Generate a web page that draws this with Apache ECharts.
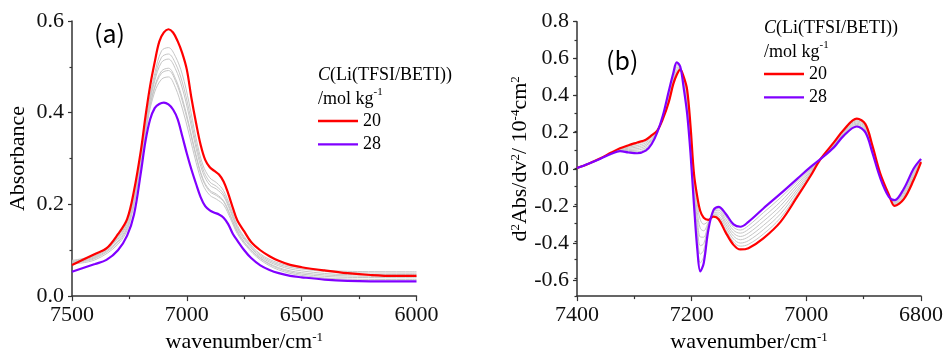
<!DOCTYPE html>
<html><head><meta charset="utf-8">
<script src="https://cdn.jsdelivr.net/npm/echarts@6/dist/echarts.min.js"></script>
<style>html,body{margin:0;padding:0;background:#fff}#c{width:946px;height:358px}</style>
</head><body><div id="c"></div>
<script>
// ---------- Panel (a): absorbance ----------
const waveA = [7500,7400,7350,7300,7260,7230,7200,7180,7160,7140,7120,7100,7080,7060,7040,7020,7000,6980,6960,6940,6920,6900,6880,6860,6840,6820,6800,6780,6750,6720,6680,6640,6600,6550,6500,6400,6300,6200,6100,6000];
const absRed20 = [0.068,0.092,0.104,0.135,0.168,0.230,0.318,0.392,0.458,0.510,0.555,0.575,0.582,0.575,0.556,0.530,0.494,0.432,0.378,0.330,0.297,0.281,0.273,0.265,0.250,0.224,0.193,0.165,0.141,0.118,0.100,0.087,0.077,0.068,0.063,0.056,0.050,0.046,0.044,0.044];
const absPurple28 = [0.053,0.070,0.079,0.100,0.132,0.178,0.270,0.338,0.385,0.410,0.419,0.422,0.418,0.407,0.386,0.349,0.311,0.276,0.245,0.216,0.196,0.187,0.182,0.178,0.171,0.157,0.136,0.121,0.100,0.083,0.067,0.057,0.050,0.044,0.041,0.036,0.033,0.032,0.032,0.032];
const waveAGray = [7500,7400,7300,7250,7200,7170,7140,7110,7080,7050,7020,6990,6960,6930,6900,6870,6840,6810,6780,6740,6680,6600,6500,6300,6000];
const absGray1 = [0.078,0.090,0.130,0.182,0.306,0.409,0.485,0.535,0.542,0.523,0.484,0.421,0.345,0.286,0.258,0.247,0.230,0.194,0.154,0.123,0.092,0.072,0.062,0.054,0.053];
const absGray2 = [0.076,0.088,0.127,0.177,0.302,0.404,0.476,0.521,0.528,0.508,0.467,0.405,0.333,0.277,0.249,0.239,0.223,0.188,0.150,0.120,0.089,0.069,0.059,0.051,0.050];
const absGray3 = [0.075,0.086,0.124,0.172,0.298,0.399,0.469,0.510,0.517,0.496,0.454,0.393,0.323,0.269,0.242,0.233,0.218,0.184,0.147,0.117,0.086,0.066,0.055,0.047,0.047];
const absGray4 = [0.073,0.084,0.120,0.166,0.293,0.392,0.457,0.491,0.497,0.475,0.432,0.373,0.308,0.256,0.231,0.222,0.208,0.176,0.142,0.112,0.083,0.062,0.051,0.044,0.043];
const absGray5 = [0.072,0.082,0.117,0.162,0.291,0.390,0.454,0.486,0.492,0.470,0.426,0.368,0.304,0.253,0.228,0.219,0.206,0.174,0.140,0.111,0.082,0.060,0.048,0.041,0.040];
const absGray6 = [0.070,0.079,0.113,0.157,0.287,0.384,0.445,0.473,0.478,0.455,0.410,0.353,0.292,0.243,0.220,0.211,0.199,0.169,0.136,0.108,0.079,0.057,0.045,0.037,0.036];

// ---------- Panel (b): second derivative ----------
const waveB = [7400,7380,7360,7340,7325,7310,7295,7280,7270,7260,7250,7240,7232,7226,7220,7214,7208,7202,7196,7190,7185,7179,7171,7162,7153,7141,7127,7115,7101,7075,7045,7016,6993,6975,6952,6935,6912,6897,6885,6871,6856,6846,6830,6813,6800];
const d2Red20 = [0,0.024,0.052,0.085,0.108,0.125,0.140,0.155,0.178,0.205,0.270,0.360,0.460,0.510,0.538,0.500,0.430,0.230,-0.030,-0.160,-0.235,-0.272,-0.283,-0.266,-0.280,-0.350,-0.420,-0.445,-0.438,-0.384,-0.294,-0.158,-0.045,0.050,0.140,0.208,0.270,0.240,0.125,-0.030,-0.145,-0.207,-0.170,-0.067,0.032];
const d2Purple28 = [0,0.024,0.050,0.078,0.092,0.085,0.081,0.095,0.130,0.195,0.290,0.420,0.520,0.578,0.555,0.440,0.300,0.080,-0.200,-0.450,-0.565,-0.520,-0.340,-0.230,-0.212,-0.248,-0.308,-0.321,-0.294,-0.221,-0.140,-0.059,0.005,0.050,0.113,0.176,0.227,0.195,0.086,-0.055,-0.158,-0.175,-0.113,-0.004,0.050];
const d2Gray1 = [0,0.024,0.051,0.084,0.106,0.119,0.132,0.146,0.171,0.204,0.273,0.369,0.469,0.520,0.540,0.491,0.411,0.209,-0.054,-0.201,-0.282,-0.307,-0.291,-0.261,-0.270,-0.335,-0.404,-0.427,-0.417,-0.361,-0.272,-0.144,-0.038,0.050,0.136,0.203,0.264,0.234,0.119,-0.034,-0.147,-0.202,-0.162,-0.058,0.035];
const d2Gray2 = [0,0.024,0.051,0.083,0.103,0.114,0.123,0.138,0.164,0.202,0.276,0.377,0.477,0.529,0.543,0.483,0.393,0.187,-0.079,-0.243,-0.329,-0.343,-0.299,-0.256,-0.261,-0.321,-0.388,-0.410,-0.397,-0.337,-0.250,-0.130,-0.031,0.050,0.132,0.199,0.258,0.227,0.114,-0.037,-0.149,-0.198,-0.154,-0.049,0.037];
const d2Gray3 = [0,0.024,0.051,0.082,0.101,0.108,0.115,0.129,0.157,0.201,0.279,0.386,0.486,0.539,0.545,0.474,0.374,0.166,-0.103,-0.284,-0.377,-0.378,-0.307,-0.251,-0.251,-0.306,-0.372,-0.392,-0.376,-0.314,-0.228,-0.116,-0.024,0.050,0.128,0.194,0.252,0.221,0.108,-0.041,-0.151,-0.193,-0.146,-0.040,0.040];
const d2Gray4 = [0,0.024,0.051,0.081,0.099,0.102,0.106,0.121,0.151,0.199,0.281,0.394,0.494,0.549,0.548,0.466,0.356,0.144,-0.127,-0.326,-0.424,-0.414,-0.316,-0.245,-0.241,-0.292,-0.356,-0.374,-0.356,-0.291,-0.206,-0.101,-0.016,0.050,0.125,0.190,0.245,0.214,0.103,-0.044,-0.152,-0.189,-0.137,-0.031,0.042];
const d2Gray5 = [0,0.024,0.051,0.080,0.097,0.096,0.098,0.112,0.144,0.198,0.284,0.403,0.503,0.559,0.550,0.457,0.337,0.123,-0.151,-0.367,-0.471,-0.449,-0.324,-0.240,-0.231,-0.277,-0.340,-0.356,-0.335,-0.268,-0.184,-0.087,-0.009,0.050,0.121,0.185,0.239,0.208,0.097,-0.048,-0.154,-0.184,-0.129,-0.022,0.045];
const d2Gray6 = [0,0.024,0.050,0.079,0.094,0.091,0.089,0.104,0.137,0.196,0.287,0.411,0.511,0.568,0.553,0.449,0.319,0.101,-0.176,-0.409,-0.518,-0.485,-0.332,-0.235,-0.222,-0.263,-0.324,-0.339,-0.315,-0.244,-0.162,-0.073,-0.002,0.050,0.117,0.181,0.233,0.201,0.092,-0.051,-0.156,-0.180,-0.121,-0.013,0.047];

const legendNames = ['20', '28'];

const SERIF = 'Liberation Serif';
const SANS = 'Noto Sans CJK SC';
const RED = '#ff0000', PURPLE = '#8000ff', GRAY = '#c6c6c6';
const pair = (xs, ys) => xs.map((x, i) => [x, ys[i]]);

const supRich = {
  sup: { fontFamily: SERIF, fontSize: 13, verticalAlign: 'top', lineHeight: 14, color: '#000' },
  n: { fontFamily: SERIF, fontSize: 22, color: '#000' },
  t: { fontFamily: SERIF, fontSize: 22, color: '#111' },
  i: { fontFamily: SERIF, fontSize: 18, fontStyle: 'italic', color: '#000' },
  s18: { fontFamily: SERIF, fontSize: 18, color: '#000' },
  sup18: { fontFamily: SERIF, fontSize: 11, verticalAlign: 'top', color: '#000' }
};

const axisLineStyle = { show: true, onZero: false, lineStyle: { color: '#333', width: 1.5 } };
function tickLabel(fmt) {
  return { margin: 8, fontFamily: SERIF, fontSize: 22, color: '#111', rich: supRich,
           formatter: v => '{t|' + fmt(v) + '}' };
}

function xAxisCommon(grid, min, max, interval) {
  return {
    gridIndex: grid, type: 'value', min, max, interval, inverse: true,
    axisLine: axisLineStyle,
    axisTick: { show: true, inside: false, length: 5, lineStyle: { color: '#333', width: 1.2 } },
    minorTick: { show: true, splitNumber: 2, length: 3, lineStyle: { color: '#333', width: 1.2 } },
    splitLine: { show: false }, minorSplitLine: { show: false },
    axisLabel: tickLabel(v => String(Math.round(v))),
    name: '{n|wavenumber/cm}{sup|-1}', nameLocation: 'middle', nameGap: 30,
    nameTextStyle: { fontFamily: SERIF, fontSize: 22, color: '#000', rich: supRich }
  };
}

function line(name, xs, ys, xi, yi, color, width, z) {
  return {
    type: 'line', name, xAxisIndex: xi, yAxisIndex: yi,
    data: pair(xs, ys), showSymbol: false, symbol: 'none', smooth: 0.35,
    lineStyle: { color, width }, itemStyle: { color }, z, silent: true
  };
}

const grayA = [absGray1, absGray2, absGray3, absGray4, absGray5, absGray6];
const grayB = [d2Gray1, d2Gray2, d2Gray3, d2Gray4, d2Gray5, d2Gray6];

const series = [];
grayA.forEach((g, k) => series.push(line('gA' + k, waveAGray, g, 0, 0, GRAY, 1, 2)));
series.push(line(legendNames[0], waveA, absRed20, 0, 0, RED, 2.2, 3));
series.push(line(legendNames[1], waveA, absPurple28, 0, 0, PURPLE, 2.2, 3));
grayB.forEach((g, k) => series.push(line('gB' + k, waveB, g, 1, 1, GRAY, 1, 2)));
series.push(line(legendNames[0], waveB, d2Red20, 1, 1, RED, 2.2, 3));
series.push(line(legendNames[1], waveB, d2Purple28, 1, 1, PURPLE, 2.2, 3));

const legendCommon = {
  data: legendNames, orient: 'vertical', icon: 'rect', itemWidth: 40, itemHeight: 2.4, itemGap: 5.4, padding: 0,
  selectedMode: false,
  textStyle: { fontFamily: SERIF, fontSize: 18, color: '#000' }
};

const option = {
  animation: false,
  backgroundColor: '#fff',
  textStyle: { fontFamily: SERIF },
  title: [
    { text: '(a)', left: 94, top: 21, padding: 0, textStyle: { fontFamily: SANS, fontSize: 25, fontWeight: 'normal', color: '#000' } },
    { text: '(b)', left: 606, top: 48, padding: 0, textStyle: { fontFamily: SANS, fontSize: 25, fontWeight: 'normal', color: '#000' } },
    { text: '{i|C}{s18|(Li(TFSI/BETI))}\n{s18|/mol kg}{sup18|-1}', left: 318, top: 63, padding: 0,
      textStyle: { fontFamily: SERIF, fontSize: 18, lineHeight: 24, fontWeight: 'normal', color: '#000', rich: supRich } },
    { text: '{i|C}{s18|(Li(TFSI/BETI))}\n{s18|/mol kg}{sup18|-1}', left: 764, top: 16, padding: 0,
      textStyle: { fontFamily: SERIF, fontSize: 18, lineHeight: 24, fontWeight: 'normal', color: '#000', rich: supRich } }
  ],
  legend: [
    Object.assign({ left: 318, top: 112 }, legendCommon),
    Object.assign({ left: 764, top: 65 }, legendCommon)
  ],
  grid: [
    { left: 72, top: 21, width: 344.5, height: 277 },
    { left: 577, top: 21.7, width: 344, height: 276.6 },
    { left: 577, top: 21.7, width: 344, height: 258.2 }
  ],
  xAxis: [
    xAxisCommon(0, 6000, 7500, 500),
    xAxisCommon(1, 6800, 7400, 200),
    { gridIndex: 2, type: 'value', show: false, min: 0, max: 1 }
  ],
  yAxis: [
    {
      gridIndex: 0, type: 'value', min: 0, max: 0.6, interval: 0.2,
      axisLine: axisLineStyle,
      axisTick: { show: true, length: 4, lineStyle: { color: '#333', width: 1.2 } },
      minorTick: { show: true, splitNumber: 2, length: 2.5, lineStyle: { color: '#333', width: 1.2 } },
      splitLine: { show: false }, minorSplitLine: { show: false },
      axisLabel: tickLabel(v => v.toFixed(1)),
      name: 'Absorbance', nameLocation: 'middle', nameGap: 43,
      nameTextStyle: { fontFamily: SERIF, fontSize: 22, color: '#000' }
    },
    {
      gridIndex: 1, type: 'value', min: -0.7, max: 0.8, interval: 0.1,
      axisLine: axisLineStyle,
      axisTick: { show: true, length: 2.5, lineStyle: { color: '#333', width: 1.2 } },
      splitLine: { show: false },
      axisLabel: { show: false },
      name: '{n|d}{sup|2}{n|Abs/dv}{sup|2}{n|/ 10}{sup|-4}{n|cm}{sup|2}', nameLocation: 'middle', nameGap: 46,
      nameTextStyle: { fontFamily: SERIF, fontSize: 22, color: '#000', rich: supRich }
    },
    {
      gridIndex: 2, type: 'value', min: -0.6, max: 0.8, interval: 0.2,
      axisLine: { show: false },
      axisTick: { show: true, length: 4, lineStyle: { color: '#333', width: 1.2 } },
      splitLine: { show: false },
      axisLabel: tickLabel(v => v.toFixed(1))
    }
  ],
  series
};

const chart = echarts.init(document.getElementById('c'), null, { renderer: 'canvas' });
chart.setOption(option);
</script>
</body></html>
